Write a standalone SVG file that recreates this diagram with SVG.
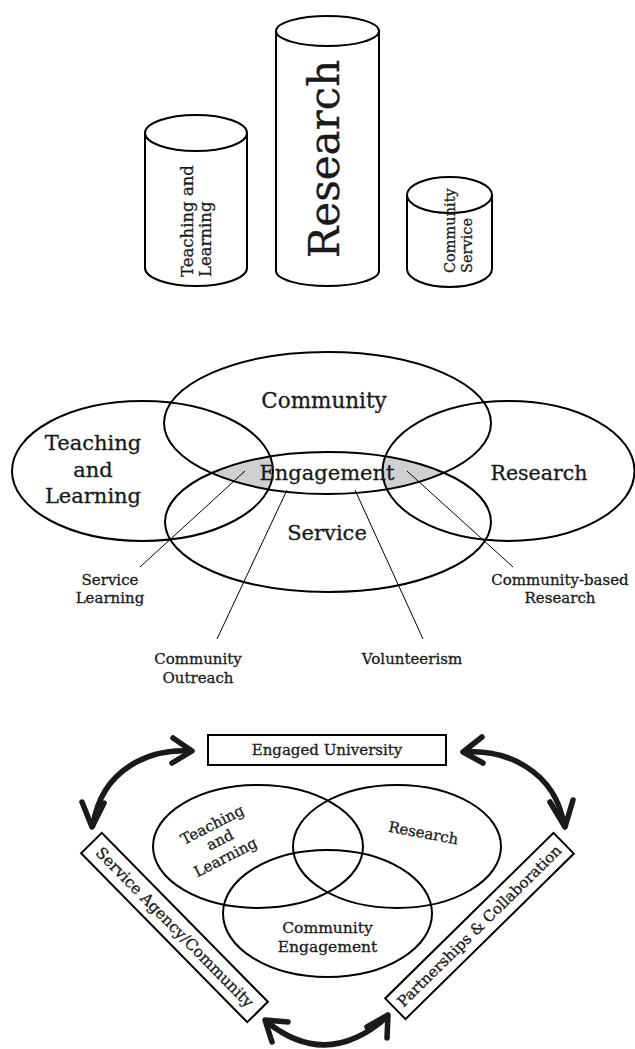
<svg xmlns="http://www.w3.org/2000/svg" width="635" height="1049" viewBox="0 0 635 1049">
<style>
text{font-family:"DejaVu Serif","Liberation Serif",serif;fill:#1a1a1a;stroke:#1a1a1a;stroke-width:0.3}
.cyl{fill:#fff;stroke:#000;stroke-width:2}
.ell{fill:none;stroke:#000;stroke-width:2}
.thin{fill:none;stroke:#000;stroke-width:1}
.box{fill:#fff;stroke:#000;stroke-width:2}
.arr{fill:none;stroke:#1a1a1a;stroke-width:5.5;stroke-linecap:round;stroke-linejoin:round}
.m{text-anchor:middle}
</style>
<defs>
<clipPath id="cComm"><ellipse cx="327.5" cy="423" rx="163.5" ry="71"/></clipPath>
<clipPath id="cServ"><ellipse cx="328" cy="522" rx="163" ry="70"/></clipPath>
</defs>
<rect width="635" height="1049" fill="#fff"/>

<!-- Cylinders -->
<g id="cyl-teaching">
<path class="cyl" d="M145,133 L145,268 A51,18 0 0 0 247,268 L247,133 Z"/>
<ellipse class="cyl" cx="196" cy="133" rx="51" ry="18"/>
<text transform="translate(192.5,277) rotate(-90)" font-size="16.5">Teaching and</text>
<text transform="translate(211,277) rotate(-90)" font-size="16.5">Learning</text>
</g>
<g id="cyl-research">
<path class="cyl" d="M276,31 L276,271 A51.5,15 0 0 0 379,271 L379,31 Z"/>
<ellipse class="cyl" cx="327.5" cy="31" rx="51.5" ry="15"/>
<text class="m" transform="translate(339,159) rotate(-90)" font-size="42">Research</text>
</g>
<g id="cyl-community">
<path class="cyl" d="M407,195 L407,269 A42.5,18 0 0 0 492,269 L492,195 Z"/>
<ellipse class="cyl" cx="449.5" cy="195" rx="42.5" ry="18"/>
<text transform="translate(455,273) rotate(-90)" font-size="14.5">Community</text>
<text transform="translate(472,273) rotate(-90)" font-size="14.5">Service</text>
</g>

<!-- Middle Venn -->
<g id="venn-shade" clip-path="url(#cComm)"><g clip-path="url(#cServ)">
<ellipse cx="142.5" cy="471" rx="130.5" ry="70" fill="#d0d0d0"/>
<ellipse cx="508.5" cy="471" rx="126" ry="70" fill="#d0d0d0"/>
</g></g>
<g id="venn-teaching">
<ellipse class="ell" cx="142.5" cy="471" rx="130.5" ry="70"/>
<text class="m" x="93" y="450" font-size="21">Teaching</text>
<text class="m" x="93" y="477" font-size="21">and</text>
<text class="m" x="93" y="503" font-size="21">Learning</text>
</g>
<g id="venn-community">
<ellipse class="ell" cx="327.5" cy="423" rx="163.5" ry="71"/>
<text class="m" x="324" y="408" font-size="21.5">Community</text>
</g>
<g id="venn-service">
<ellipse class="ell" cx="328" cy="522" rx="163" ry="70"/>
<text class="m" x="327" y="540" font-size="21">Service</text>
</g>
<g id="venn-research">
<ellipse class="ell" cx="508.5" cy="471" rx="126" ry="70"/>
<text class="m" x="539" y="480" font-size="20.5">Research</text>
</g>
<g id="venn-engagement">
<text class="m" x="327" y="480" font-size="21">Engagement</text>
</g>

<g id="callouts">
<line class="thin" x1="245" y1="471" x2="140" y2="567"/>
<line class="thin" x1="287" y1="490" x2="217" y2="639"/>
<line class="thin" x1="355" y1="490" x2="423" y2="639"/>
<line class="thin" x1="407" y1="471" x2="513" y2="567"/>
</g>
<g id="label-service-learning">
<text class="m" x="110" y="585" font-size="15">Service</text>
<text class="m" x="110" y="603" font-size="15">Learning</text>
</g>
<g id="label-community-outreach">
<text class="m" x="198" y="664" font-size="15">Community</text>
<text class="m" x="198" y="683" font-size="15">Outreach</text>
</g>
<g id="label-volunteerism">
<text class="m" x="412" y="664" font-size="15">Volunteerism</text>
</g>
<g id="label-cbr">
<text class="m" x="560" y="585" font-size="15">Community-based</text>
<text class="m" x="560" y="603" font-size="15">Research</text>
</g>

<!-- Bottom -->
<g id="engaged-university">
<rect class="box" x="208" y="735" width="238" height="30"/>
<text class="m" x="327" y="755" font-size="15">Engaged University</text>
</g>
<g id="b-teaching">
<ellipse class="ell" cx="258" cy="846.5" rx="105" ry="61.5"/>
<g transform="translate(220,840) rotate(-27)">
<text class="m" x="0" y="-12" font-size="15">Teaching</text>
<text class="m" x="0" y="5" font-size="15">and</text>
<text class="m" x="-3" y="23" font-size="15">Learning</text>
</g>
</g>
<g id="b-research">
<ellipse class="ell" cx="397" cy="846.5" rx="104" ry="61.5"/>
<text class="m" transform="translate(422.5,838) rotate(10.5)" font-size="15">Research</text>
</g>
<g id="b-community">
<ellipse class="ell" cx="327.5" cy="913.5" rx="104.5" ry="63.5"/>
<text class="m" x="327.5" y="933" font-size="15.5">Community</text>
<text class="m" x="327.5" y="952" font-size="15.5">Engagement</text>
</g>
<g id="service-agency" transform="translate(174.5,927.5) rotate(45.5)">
<rect class="box" x="-118.5" y="-14.5" width="237" height="29"/>
<text class="m" x="0" y="5" font-size="15.5">Service Agency/Community</text>
</g>
<g id="partnerships" transform="translate(479.5,926) rotate(-44.5)">
<rect class="box" x="-118" y="-14.5" width="236" height="29"/>
<text class="m" x="0" y="5" font-size="15">Partnerships &amp; Collaboration</text>
</g>

<g id="connectors">
<path class="arr" d="M190,751 C150,749 102,768 93,825"/>
<path class="arr" d="M173,738 L192,751 L172,763"/>
<path class="arr" d="M82,802 L92,827 L104,803"/>
<path class="arr" d="M465,752 C505,749 555,770 564,825"/>
<path class="arr" d="M482,737 L463,752 L483,763"/>
<path class="arr" d="M550,802 L565,827 L573,800"/>
<path class="arr" d="M267,1022 Q327,1070 387,1017"/>
<path class="arr" d="M288,1022 L265,1020 L272,1042"/>
<path class="arr" d="M367,1027 L388,1015 L387,1038"/>
</g>
</svg>
